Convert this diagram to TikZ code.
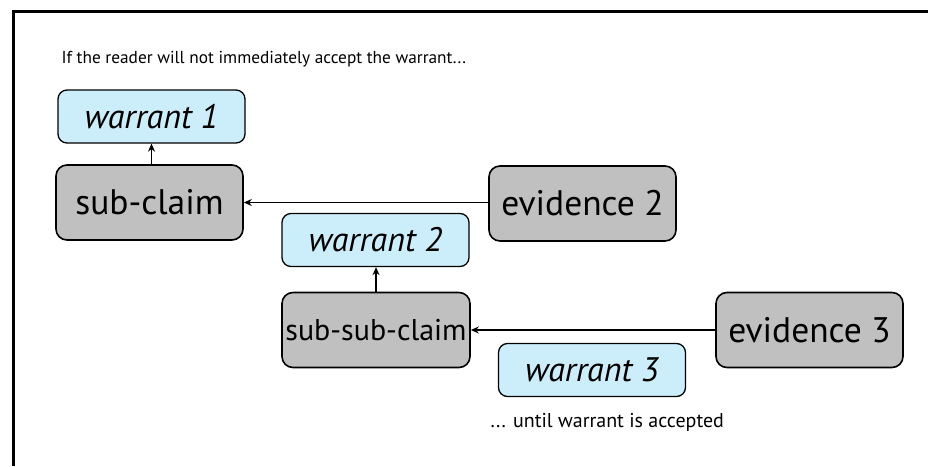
\documentclass[tikz,border=0pt]{standalone}
\usepackage{fontspec}
\setmainfont{PT Sans}
\usetikzlibrary{arrows.meta}
\definecolor{warrantblue}{HTML}{CCEEFB}
\definecolor{claimgray}{HTML}{C0C0C0}
\begin{document}
\begin{tikzpicture}[x=1pt,y=-1pt,
    warrantbox/.style={draw, line width=1.3pt, fill=warrantblue, rounded corners=9pt,
        minimum width=187pt, minimum height=53pt, inner sep=0pt, font=\fontsize{34}{36}\selectfont\itshape},
    claimbox/.style={draw, line width=1.6pt, fill=claimgray, rounded corners=11pt,
        minimum width=187pt, minimum height=75pt, inner sep=0pt, font=\fontsize{35.5}{38}\selectfont},
    link/.style={line width=1.9pt, -{Stealth[length=8pt,width=7pt]}}]
    \useasboundingbox (0,0) rectangle (928,466);
    \draw[line width=3pt] (13,466) -- (13,11.5) -- (928,11.5);
    \node[anchor=base west, font=\fontsize{17.3}{19}\selectfont] (intro) at (58,63) {If the reader will not immediately accept the warrant...};
    \node[warrantbox] (warrant1) at (151.5,116.5) {warrant 1};
    \node[claimbox] (subclaim) at (149.5,202.5) {sub-claim};
    \node[claimbox] (evidence2) at (582.5,203.5) {evidence 2};
    \node[warrantbox] (warrant2) at (375.5,240) {warrant 2};
    \node[claimbox, minimum width=188pt, font=\fontsize{30}{32}\selectfont] (subsubclaim) at (376,330) {sub-sub-claim};
    \node[claimbox] (evidence3) at (809.5,330) {evidence 3};
    \node[warrantbox] (warrant3) at (592,370) {warrant 3};
    \node[anchor=base west, font=\fontsize{20}{22}\selectfont] (outro) at (487,427) {... until warrant is accepted};
    \draw[link] (subclaim.north -| warrant1) -- (warrant1.south);
    \draw[link] (evidence2.west |- subclaim.east) -- (subclaim.east);
    \draw[link] (subsubclaim.north) -- (subsubclaim.north |- warrant2.south);
    \draw[link] (evidence3.west) -- (evidence3.west -| subsubclaim.east);
\end{tikzpicture}
\end{document}
